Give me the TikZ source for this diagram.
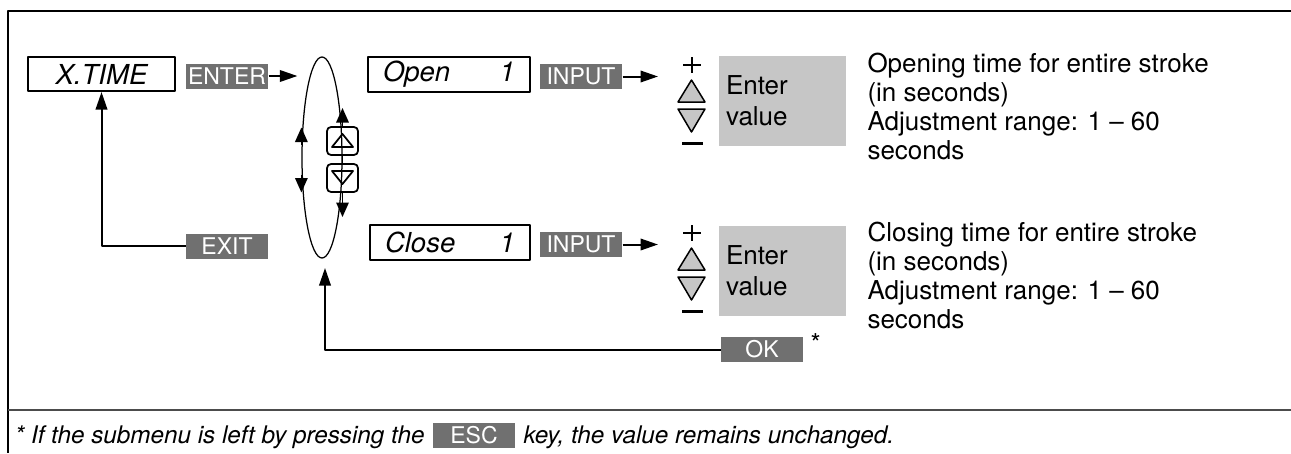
\documentclass[tikz,border=0pt]{standalone}
\usepackage{fontspec}
\setmainfont{TeX Gyre Heros}
\usetikzlibrary{arrows.meta,shapes.geometric,positioning}
\definecolor{keygray}{HTML}{707070}
\definecolor{valgray}{HTML}{C6C6C6}
\tikzset{
  menubox/.style={draw,line width=.8pt,inner sep=0pt,font=\fontsize{11}{12}\selectfont\itshape},
  keybox/.style={fill=keygray,text=white,inner sep=0pt,minimum width=32.8pt,minimum height=10pt,font=\fontsize{9.2}{10}\selectfont},
  valbox/.style={fill=valgray,minimum width=50.8pt,minimum height=36pt,text width=45.2pt,inner sep=0pt,align=left,font=\fontsize{10.4}{12.4}\selectfont},
  desc/.style={inner sep=0pt,align=left,font=\fontsize{10.4}{11.6}\selectfont},
  btn/.style={draw,line width=.7pt,rounded corners=1.6pt,minimum width=12.4pt,minimum height=11.2pt,inner sep=0pt},
  arr/.style={line width=.8pt,-{Triangle[length=7pt,width=4.6pt]}},
  smallarr/.style={line width=.6pt,-{Triangle[length=5.8pt,width=5pt]}},
}
\begin{document}
\begin{tikzpicture}[x=0.4pt,y=-0.4pt,line join=round]
\useasboundingbox (0,0) rectangle (1291,453);
% frame
\draw[line width=.8pt] (1291,11) -- (8,11) -- (8,453);
\draw[line width=.6pt,black!70] (8,410) -- (1291,410);
% left part
\node[menubox,minimum width=58.8pt,minimum height=13.6pt] (xtime) at (101.5,74) {X.TIME};
\node[keybox] (enter) at (227,76) {ENTER};
\node[keybox] (exit) at (227,246) {EXIT};
\node[draw,ellipse,line width=.5pt,minimum width=16pt,minimum height=80.4pt,inner sep=0pt] (menu) at (322,157.5) {};
\draw[arr,shorten >=1.6pt] (enter) -- (menu.west |- enter);
\draw[arr] (exit.west) -| (xtime.south);
% scroll keys
\node[btn] (btnUp) at (342.5,141) {};
\node[btn] (btnDn) at (342.5,178) {};
\draw[line width=.7pt] (332,147) -- (353,147) -- (342.5,134) -- cycle;
\draw[line width=.7pt] (332,171) -- (353,171) -- (342.5,184) -- cycle;
\coordinate (upTip) at (342.5,108);
\coordinate (dnTip) at (342.5,217);
\draw[smallarr] (btnUp.north) -- (upTip);
\draw[line width=.6pt] (btnUp.south) -- (btnDn.north);
\draw[smallarr] (btnDn.south) -- (dnTip);
\draw[smallarr] ([yshift=5pt]menu.west) -- ([yshift=12pt]menu.west);
\draw[smallarr] ([yshift=-7pt]menu.west) -- ([yshift=-14pt]menu.west);
% submenu items
\node[menubox,minimum width=64.8pt,minimum height=14pt,text width=52.8pt] (open) at (449,74.5) {Open\hfill 1};
\node[menubox,minimum width=64pt,minimum height=14pt,text width=52pt] (close) at (450,242.5) {Close\hfill 1};
\node[keybox] (inpA) at (581,76.5) {INPUT};
\node[keybox] (inpB) at (581,244.5) {INPUT};
\coordinate (keysA) at (658,76.5);
\coordinate (keysB) at (658,244.5);
\draw[arr] (inpA) -- (keysA);
\draw[arr] (inpB) -- (keysB);
\foreach \dy in {0,168}{
  \draw[line width=.7pt] (683,65+\dy) -- (701,65+\dy) (692,57+\dy) -- (692,73+\dy);
  \filldraw[fill=valgray,line width=.6pt] (678,102+\dy) -- (705,102+\dy) -- (691.5,80+\dy) -- cycle;
  \filldraw[fill=valgray,line width=.6pt] (678,109+\dy) -- (705,109+\dy) -- (691.5,132+\dy) -- cycle;
  \draw[line width=1.2pt] (682,143+\dy) -- (703,143+\dy);
}
\node[valbox] (valA) at (782.5,101) {Enter\\value};
\node[valbox] (valB) at (782.5,271) {Enter\\value};
\node[desc,anchor=north west] (descA) at (867,53) {Opening time for entire stroke\\(in seconds)\\Adjustment range: 1 – 60\\seconds};
\node[desc,anchor=north west] (descB) at (867,222) {Closing time for entire stroke\\(in seconds)\\Adjustment range: 1 – 60\\seconds};
% confirm
\node[keybox] (ok) at (762,349.5) {OK};
\node[inner sep=0pt,font=\fontsize{10.4}{12}\selectfont,anchor=west] (star) at (810,343) {*};
\coordinate (okTip) at (325,268);
\draw[arr] (ok.west) -| (okTip);
% footnote
\node[keybox] (esc) at (474,435) {ESC};
\node[inner sep=0pt,anchor=base east,font=\fontsize{9.7}{12}\selectfont\itshape] (noteL) at ([xshift=-3pt]esc.base west) {* If the submenu is left by pressing the};
\node[inner sep=0pt,anchor=base west,font=\fontsize{9.7}{12}\selectfont\itshape] (noteR) at ([xshift=3pt]esc.base east) {key, the value remains unchanged.};
\end{tikzpicture}
\end{document}
